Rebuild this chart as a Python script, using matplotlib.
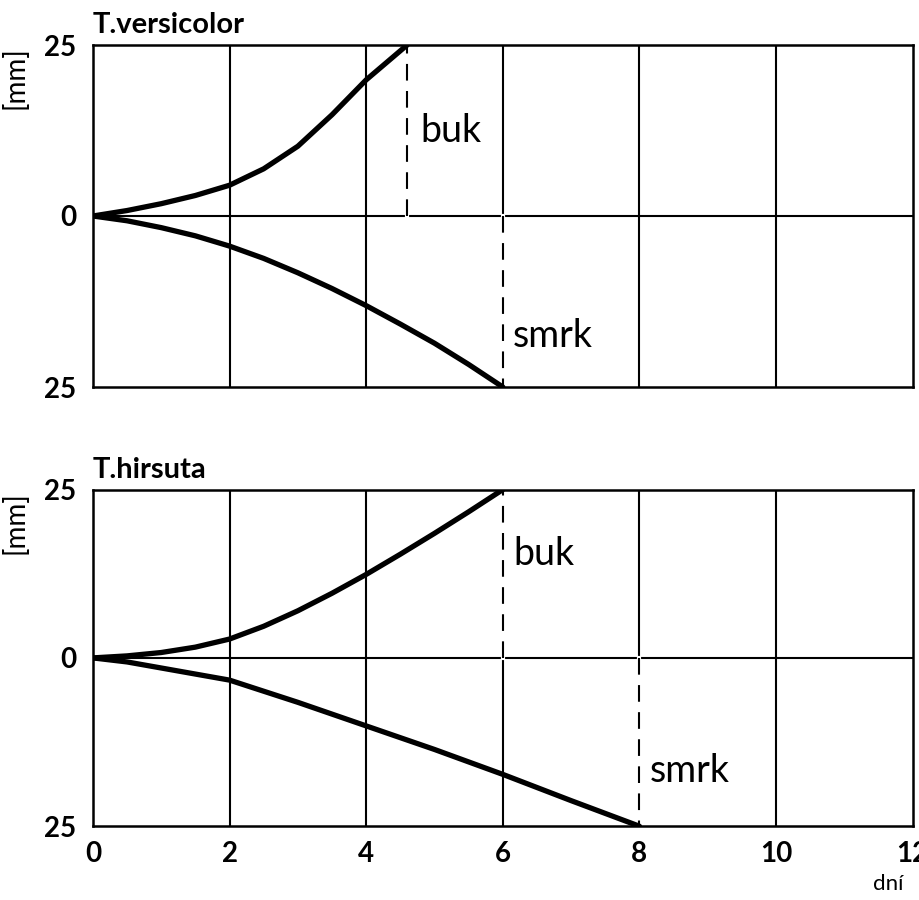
import matplotlib
matplotlib.use("Agg")
import matplotlib.pyplot as plt

plt.rcParams['font.family'] = ['Lato', 'DejaVu Sans']

# --- data (days, mm) ---
tv_buk_x = [0, 0.5, 1, 1.5, 2, 2.5, 3, 3.5, 4, 4.6]
tv_buk_y = [0, 0.8, 1.8, 3.0, 4.5, 6.9, 10.2, 14.8, 19.9, 25.0]
tv_smrk_x = [0, 0.5, 1, 1.5, 2, 2.5, 3, 3.5, 4, 4.5, 5, 5.5, 6]
tv_smrk_y = [0, -0.7, -1.7, -2.9, -4.4, -6.2, -8.3, -10.6, -13.1, -15.8, -18.6, -21.7, -25.0]

th_buk_x = [0, 0.5, 1, 1.5, 2, 2.5, 3, 3.5, 4, 4.5, 5, 5.5, 6]
th_buk_y = [0, 0.3, 0.8, 1.6, 2.8, 4.7, 7.0, 9.6, 12.4, 15.4, 18.5, 21.7, 25.0]
th_smrk_x = [0, 0.5, 1, 1.5, 2, 3, 4, 5, 6, 7, 8]
th_smrk_y = [0, -0.6, -1.5, -2.4, -3.3, -6.6, -10.1, -13.6, -17.3, -21.2, -25.0]

titles = ["T.versicolor", "T.hirsuta"]
x_ticks = [0, 2, 4, 6, 8, 10, 12]
y_ticks = [-25, 0, 25]
y_tick_labels = ["25", "0", "25"]
species_labels = ["buk", "smrk"]

panels = [
    (tv_buk_x, tv_buk_y, tv_smrk_x, tv_smrk_y),
    (th_buk_x, th_buk_y, th_smrk_x, th_smrk_y),
]
label_pos = [
    ((4.8, 12.5), (6.15, -17.5)),
    ((6.15, 15.5), (8.15, -16.8)),
]

fig = plt.figure(figsize=(9.2, 9.0), dpi=100)
rects = [[0.101, 0.570, 0.891, 0.380], [0.101, 0.082, 0.891, 0.374]]

for i, (rect, (bx, by, sx, sy)) in enumerate(zip(rects, panels)):
    ax = fig.add_axes(rect)
    ax.set_xlim(0, 12)
    ax.set_ylim(-25, 25)
    for s in ax.spines.values():
        s.set_linewidth(1.8)
        s.set_color('black')
    for xv in x_ticks[1:-1]:
        ax.axvline(xv, color='black', lw=1.5, zorder=1)
    ax.axhline(0, color='black', lw=1.5, zorder=1)
    ax.plot(bx, by, color='black', lw=3.8, solid_capstyle='round',
            solid_joinstyle='round', zorder=4)
    ax.plot(sx, sy, color='black', lw=3.8, solid_capstyle='round',
            solid_joinstyle='round', zorder=4)
    for xe, ye in ((bx[-1], by[-1]), (sx[-1], sy[-1])):
        ax.plot([xe, xe], [0, ye], color='white', lw=3.0, zorder=2)
        ax.plot([xe, xe], [0, ye], color='black', lw=1.5,
                dashes=(8, 5), zorder=3)
    (lbx, lby), (lsx, lsy) = label_pos[i]
    ax.text(lbx, lby, species_labels[0], fontsize=27, va='center', ha='left')
    ax.text(lsx, lsy, species_labels[1], fontsize=27, va='center', ha='left')

    ax.set_yticks(y_ticks)
    ax.set_yticklabels(y_tick_labels, fontsize=20, fontweight='bold')
    ax.tick_params(length=0, pad=12)
    if i == 1:
        ax.set_xticks(x_ticks)
        ax.set_xticklabels([str(v) for v in x_ticks], fontsize=20, fontweight='bold')
        ax.tick_params(axis='x', pad=11)
        ax.text(11.65, -33.6, "dní", fontsize=16, ha='center', va='center')
    else:
        ax.set_xticks([])
    ax.text(0.0, 26.0, titles[i], fontsize=21, fontweight='bold',
            ha='left', va='bottom')
    ax.text(-0.095, 0.995, "[mm]", fontsize=20, rotation=90,
            transform=ax.transAxes, ha='center', va='top')

fig.savefig("out.png", dpi=100)
